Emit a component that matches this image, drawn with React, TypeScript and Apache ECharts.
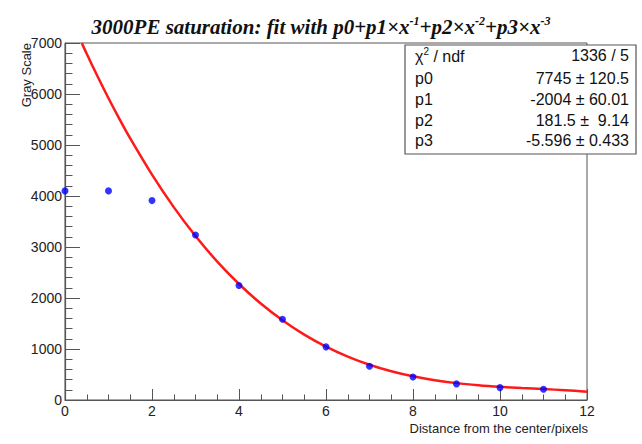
import React, { useEffect, useRef } from "react";
import * as echarts from "echarts";

const pointX = [0, 1, 2, 3, 4, 5, 6, 7, 8, 9, 10, 11];
const pointY = [4100, 4100, 3910, 3235, 2245, 1584, 1042, 663, 452, 316, 243, 212];

const fitX = [0.385, 0.5, 0.75, 1, 1.25, 1.5, 2, 2.5, 3, 3.5, 4, 4.5, 5, 5.5, 6, 6.5, 7, 7.5, 8, 8.5, 9, 9.5, 10, 10.5, 11, 11.5, 12];
const fitY = [7000, 6788, 6342, 5917, 5513, 5128, 4418, 3782, 3215, 2714, 2275, 1892, 1563, 1282, 1046, 851, 691, 563, 464, 388, 331, 290, 259, 235, 214, 192, 163];

const statLabels = ["p0", "p1", "p2", "p3"];
const statValues = ["7745 \u00b1 120.5", "-2004 \u00b1 60.01", "181.5 \u00b1  9.14", "-5.596 \u00b1 0.433"];
const chiLabel = "1336 / 5";

const xTitle = "Distance from the center/pixels";
const yTitle = "Gray Scale";

export default function App() {
  const ref = useRef<HTMLDivElement>(null);
  useEffect(() => {
    if (!ref.current) return;
    const chart = echarts.init(ref.current, undefined, { renderer: "svg" });
    const sans = "Liberation Sans";
    const fs = 16;
    const rowY = [55, 78, 99, 120, 140];
    const statTexts: any[] = [
      {
        type: "text",
        x: 415,
        y: rowY[0],
        z: 20,
        style: {
          text: "{a|\u03c7}{s|2}{a| / ndf}",
          textVerticalAlign: "middle",
          rich: {
            a: { fontSize: fs, fontFamily: sans, fill: "#111", lineHeight: 19, verticalAlign: "bottom" },
            s: { fontSize: 10, fontFamily: sans, fill: "#111", lineHeight: 19, verticalAlign: "top", padding: [1, 0, 0, 0] },
          },
        },
      },
      {
        type: "text",
        x: 629,
        y: rowY[0],
        z: 20,
        style: { text: chiLabel, textAlign: "right", textVerticalAlign: "middle", fontSize: fs, fontFamily: sans, fill: "#111" },
      },
    ];
    statLabels.forEach((l, i) => {
      statTexts.push({
        type: "text",
        x: 415,
        y: rowY[i + 1],
        z: 20,
        style: { text: l, textVerticalAlign: "middle", fontSize: fs, fontFamily: sans, fill: "#111" },
      });
      statTexts.push({
        type: "text",
        x: 629,
        y: rowY[i + 1],
        z: 20,
        style: { text: statValues[i], textAlign: "right", textVerticalAlign: "middle", fontSize: fs, fontFamily: sans, fill: "#111", whiteSpace: "pre" },
      });
    });

    chart.setOption({
      animation: false,
      backgroundColor: "#fff",
      title: {
        left: "center",
        top: 6,
        text: "{t|3000PE saturation: fit with p0+p1\u00d7x}{s|-1}{t|+p2\u00d7x}{s|-2}{t|+p3\u00d7x}{s|-3}",
        textStyle: {
          rich: {
            t: { fontSize: 21, fontFamily: "Liberation Serif", fontWeight: "bold", fontStyle: "italic", color: "#111", lineHeight: 26, verticalAlign: "bottom" },
            s: { fontSize: 12, fontFamily: "Liberation Serif", fontWeight: "bold", fontStyle: "italic", color: "#111", lineHeight: 26, verticalAlign: "top", padding: [4, 0, 0, 0] },
          },
        },
      },
      grid: { left: 65, right: 55, top: 43, bottom: 44, show: true, borderColor: "#555", borderWidth: 1 },
      xAxis: {
        type: "value",
        min: 0,
        max: 12,
        interval: 2,
        axisLine: { show: true, lineStyle: { color: "#555", width: 1.2 } },
        axisTick: { show: true, inside: true, length: 11, lineStyle: { color: "#555" } },
        minorTick: { show: true, splitNumber: 4, length: 5.5, lineStyle: { color: "#555" } },
        splitLine: { show: false },
        axisLabel: { margin: 4, fontSize: 14, fontFamily: sans, color: "#222" },
      },
      yAxis: {
        type: "value",
        min: 0,
        max: 7000,
        interval: 1000,
        axisLine: { show: true, lineStyle: { color: "#555", width: 1.2 } },
        axisTick: { show: true, inside: true, length: 15, lineStyle: { color: "#555" } },
        minorTick: { show: true, splitNumber: 5, length: 7.5, lineStyle: { color: "#555" } },
        splitLine: { show: false },
        axisLabel: { margin: 3, fontSize: 14, fontFamily: sans, color: "#222", formatter: (v: number) => String(v) },
      },
      series: [
        {
          type: "line",
          data: fitX.map((x, i) => [x, fitY[i]]),
          showSymbol: false,
          smooth: 0.3,
          lineStyle: { color: "#ff1a1a", width: 2.5 },
          z: 2,
        },
        {
          type: "scatter",
          data: pointX.map((x, i) => [x, pointY[i]]),
          symbol: "circle",
          symbolSize: 7,
          itemStyle: { color: "#0000ff" },
          z: 3,
        },
      ],
      graphic: [
        {
          type: "text",
          x: 33,
          y: 43,
          rotation: Math.PI / 2,
          style: { text: yTitle, textAlign: "right", textVerticalAlign: "bottom", fontSize: 13, fontFamily: sans, fill: "#222" },
        },
        {
          type: "text",
          x: 588,
          y: 428,
          style: { text: xTitle, textAlign: "right", textVerticalAlign: "middle", fontSize: 13, fontFamily: sans, fill: "#222" },
        },
        {
          type: "rect",
          shape: { x: 405, y: 45, width: 231, height: 109 },
          style: { fill: "#fff", stroke: "#555", lineWidth: 1.2 },
          z: 10,
        },
        ...statTexts,
      ],
    });
    return () => chart.dispose();
  }, []);
  return <div ref={ref} style={{ position: "absolute", left: 0, top: 0, width: 642, height: 444 }} />;
}
